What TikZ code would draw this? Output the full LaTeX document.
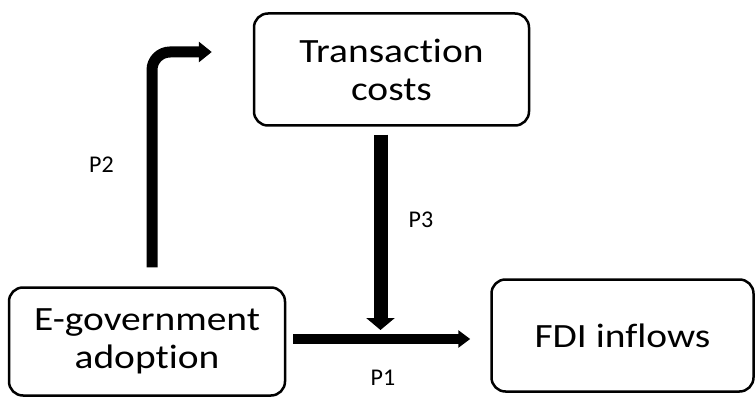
\documentclass[tikz,border=0pt]{standalone}
\usepackage{fontspec}
\setmainfont{Carlito}[FakeStretch=1.16, Ligatures={NoCommon}]
\newfontfamily\labelfont{Carlito}[Ligatures={NoCommon}]
\usepackage{tikz}
\usetikzlibrary{positioning}
\usetikzlibrary{arrows.meta}

\begin{document}
\begin{tikzpicture}[
        align=center,
        box/.style = {draw, line width=2.5pt, rounded corners=14pt, minimum width=275pt, minimum height=112pt, inner sep=0pt, font=\fontsize{34}{38}\selectfont},
        link/.style = {-{Triangle[length=13pt, width=20pt]}},
        plabel/.style = {font=\labelfont\fontsize{24}{26}\selectfont}
    ]
        \useasboundingbox (0,0) rectangle (755pt,397pt);

        \node[box, minimum width=276pt, minimum height=108pt] (eg) at (147pt,55.5pt) {E-government\\adoption};
        \node[box, minimum width=262pt] (fdi) [right=204pt of eg, yshift=6pt] {FDI inflows};
        \node[box] (tc) at (391.5pt,327.5pt) {Transaction\\costs};

        \coordinate (p1s) at ([yshift=2.5pt]eg.east);
        \coordinate (p3e) at (380.5pt,67pt);

        \draw[link, line width=11pt, rounded corners=18pt, shorten <=19pt, shorten >=41pt] ([xshift=5pt]eg.north) |- ([yshift=17.5pt]tc.west);
        \draw[-{Triangle[length=12pt, width=28pt]}, line width=14pt, shorten <=8pt] (tc.south -| p3e) -- (p3e);
        \draw[-{Triangle[length=12pt, width=17pt]}, line width=9.5pt, shorten <=7pt, shorten >=20pt] (p1s) -- (fdi.west |- p1s);

        \node[plabel] (p1) at (383pt,19pt) {P1};
        \node[plabel] (p2) at (101.5pt,232pt) {P2};
        \node[plabel] (p3) at (421pt,177pt) {P3};

    \end{tikzpicture}
\end{document}
